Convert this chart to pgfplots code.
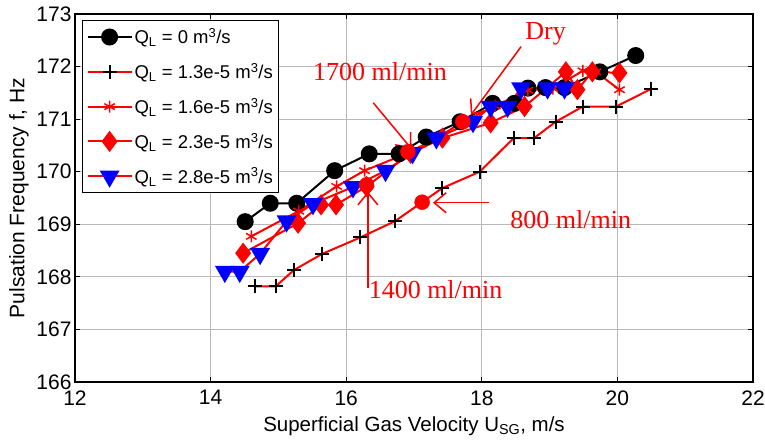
\documentclass[border=0pt]{standalone}
\usepackage{fontspec}
\setmainfont{Liberation Sans}
\newfontfamily\timesfont{Liberation Serif}
\usepackage{pgfplots}
\pgfplotsset{compat=1.18}
\usetikzlibrary{arrows.meta}
\begin{document}
\begin{tikzpicture}
\begin{axis}[
    width=678pt, height=368pt, scale only axis,
    xmin=12, xmax=22, ymin=166, ymax=173,
    xtick={12,14,...,22}, ytick={166,167,...,173},
    grid=major, grid style={draw=gray!55, line width=0.8pt},
    axis line style={line width=1.2pt},
    tick align=inside, major tick length=5pt,
    tick style={black, line width=0.8pt},
    ticklabel style={font=\fontsize{21}{24}\selectfont},
    xticklabel style={yshift=-5pt},
    yticklabel style={xshift=0pt},
    /pgf/number format/assume math mode=true,
    xlabel={Superficial Gas Velocity U\textsubscript{SG}, m/s},
    ylabel={Pulsation Frequency f, Hz},
    xlabel style={font=\fontsize{20.5}{24}\selectfont, at={(axis description cs:0.5,-44/368)}, anchor=center},
    ylabel style={font=\fontsize{21}{24}\selectfont, at={(axis description cs:-56/678,0.5)}, anchor=center},
    legend style={at={(axis description cs:7/678,1-6/368)}, anchor=north west,
        draw=black, line width=1.2pt, fill=white,
        font=\fontsize{18.5}{21}\selectfont, row sep=14pt,
        inner xsep=4pt, inner ysep=6pt},
    legend cell align=left,
    legend image code/.code={
        \draw[mark repeat=2,mark phase=2,#1] plot coordinates {(0pt,0pt) (22pt,0pt) (44pt,0pt)};
    },
    clip=false
]
% Q_L = 0
\addplot[black, line width=2pt, mark=*, mark size=7.5pt] coordinates {
    (14.51,169.05) (14.88,169.40) (15.27,169.40) (15.83,170.02)
    (16.34,170.34) (16.78,170.34) (17.18,170.66) (17.68,170.95)
    (18.16,171.30) (18.48,171.30) (18.68,171.59) (18.94,171.60)
    (19.22,171.60) (19.74,171.90) (20.27,172.21)
};
\addlegendentry{Q\textsubscript{L} = 0 m\textsuperscript{3}/s}
% Q_L = 1.3e-5
\addplot[red, line width=2pt, mark=+, mark options={black, mark size=7pt, line width=2pt}] coordinates {
    (14.65,167.82) (14.96,167.82) (15.23,168.13) (15.65,168.44)
    (16.21,168.75) (16.72,169.06) (17.42,169.69) (17.97,170.00)
    (18.47,170.64) (18.77,170.64) (19.09,170.95) (19.49,171.24)
    (19.98,171.24) (20.49,171.57)
};
\addlegendentry{Q\textsubscript{L} = 1.3e-5 m\textsuperscript{3}/s}
% Q_L = 1.6e-5
\addplot[red, line width=2pt, mark=asterisk, mark options={red, mark size=6pt, line width=1.5pt}] coordinates {
    (14.60,168.77) (15.30,169.25) (15.86,169.72) (16.27,170.02)
    (16.90,170.35) (17.35,170.65) (17.72,170.95) (18.20,171.25)
    (18.68,171.55) (19.05,171.58) (19.49,171.92) (19.68,171.90)
    (20.03,171.56)
};
\addlegendentry{Q\textsubscript{L} = 1.6e-5 m\textsuperscript{3}/s}
% Q_L = 2.3e-5
\addplot[red, line width=2pt, mark=diamond*, mark options={red, mark size=9pt}] coordinates {
    (14.48,168.45) (15.29,169.02) (15.63,169.37) (15.85,169.37)
    (16.30,169.72) (16.95,170.35) (17.42,170.64) (18.13,170.93)
    (18.63,171.24) (19.24,171.90) (19.41,171.56) (19.63,171.90)
    (20.03,171.88)
};
\addlegendentry{Q\textsubscript{L} = 2.3e-5 m\textsuperscript{3}/s}
% Q_L = 2.8e-5
\addplot[red, line width=2pt, mark=triangle*, mark options={blue, mark size=9.5pt, rotate=180}] coordinates {
    (14.21,168.10) (14.43,168.10) (14.73,168.44) (15.12,169.06)
    (15.51,169.39) (16.10,169.71) (16.58,170.02) (16.98,170.36)
    (17.33,170.64) (17.87,170.95) (18.13,171.24) (18.38,171.24)
    (18.58,171.59) (18.97,171.59) (19.22,171.59)
};
\addlegendentry{Q\textsubscript{L} = 2.8e-5 m\textsuperscript{3}/s}
% annotated points
\addplot[only marks, mark=*, red, mark size=7.5pt, forget plot] coordinates {
    (16.91,170.38) (17.72,170.95) (16.30,169.75) (17.12,169.42)
};
% annotations
\draw[red, line width=1.5pt, -{Straight Barb[length=12pt,width=20pt]}] (axis cs:16.40,171.31) -- (axis cs:16.96,170.44);
\draw[red, line width=1.5pt, -{Straight Barb[length=12pt,width=20pt]}] (axis cs:18.58,172.38) -- (axis cs:17.84,171.08);
\draw[red, line width=1.5pt, -{Straight Barb[length=12pt,width=20pt]}] (axis cs:16.32,167.79) -- (axis cs:16.32,169.62);
\draw[red, line width=1.5pt, -{Straight Barb[length=12pt,width=20pt]}] (axis cs:18.11,169.41) -- (axis cs:17.28,169.41);
\node[red, anchor=west, inner sep=0pt, font=\timesfont\fontsize{26}{28}\selectfont] at (axis cs:15.51,171.90) {1700 ml/min};
\node[red, anchor=center, inner sep=0pt, font=\timesfont\fontsize{26}{28}\selectfont] at (axis cs:18.94,172.63) {Dry};
\node[red, anchor=west, inner sep=0pt, font=\timesfont\fontsize{26}{28}\selectfont] at (axis cs:16.33,167.75) {1400 ml/min};
\node[red, anchor=west, inner sep=0pt, font=\timesfont\fontsize{26}{28}\selectfont] at (axis cs:18.42,169.08) {800 ml/min};
\end{axis}
\pgfresetboundingbox
\path ([shift={(-75pt,-59pt)}]current axis.south west) rectangle ([shift={(12pt,14pt)}]current axis.north east);
\end{tikzpicture}
\end{document}
